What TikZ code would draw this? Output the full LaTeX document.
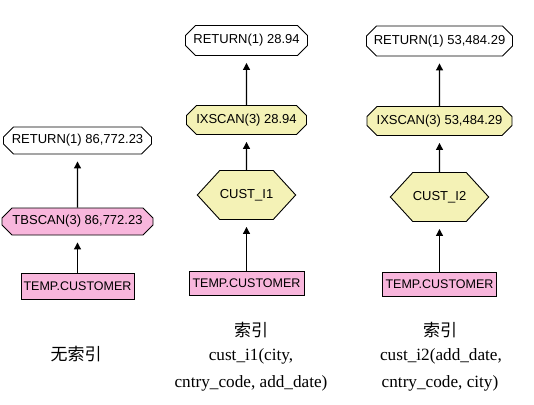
\documentclass[tikz,border=0pt]{standalone}
\usepackage{fontspec}
\setmainfont{Liberation Serif}
\newfontfamily\boxfont{Liberation Sans}
\newfontfamily\cjk{Noto Sans CJK SC}
\usetikzlibrary{shapes.misc,shapes.symbols,arrows.meta}
\definecolor{pinkfill}{RGB}{248,182,220}
\definecolor{yelfill}{RGB}{244,242,182}
\tikzset{
  op/.style={chamfered rectangle, chamfered rectangle xsep=5pt, chamfered rectangle ysep=5pt,
    draw=black, line width=0.9pt, inner sep=0pt, font=\boxfont\fontsize{13}{15}\selectfont},
  retbox/.style={op, fill=white},
  tbbox/.style={op, fill=pinkfill},
  ixbox/.style={op, fill=yelfill},
  tabbox/.style={rectangle, draw=black, line width=0.9pt, fill=pinkfill, inner sep=0pt,
    font=\boxfont\fontsize{12.5}{14}\selectfont},
  hexbox/.style={signal, signal to=east and west, signal pointer angle=95, draw=black,
    line width=0.9pt, fill=yelfill, inner sep=0pt, font=\boxfont\fontsize{13}{15}\selectfont},
  arr/.style={line width=1.1pt, -{Triangle[length=7pt,width=7pt]}, shorten >=7pt},
  captext/.style={font=\fontsize{17.2}{24}\selectfont, inner sep=0pt, anchor=base},
  cjkcap/.style={font=\cjk\fontsize{17}{20}\selectfont, inner sep=0pt},
}
\begin{document}
\begin{tikzpicture}[x=1pt,y=-1pt]
\useasboundingbox (0,0) rectangle (534,404);
% column 1
\node[retbox, minimum width=148pt, minimum height=27pt] (r1) at (77.5,140.5) {RETURN(1) 86,772.23};
\node[tbbox, minimum width=151pt, minimum height=27pt] (s1) at (77.5,221.5) {TBSCAN(3) 86,772.23};
\node[tabbox, minimum width=113pt, minimum height=26pt] (t1) at (77.5,286.5) {TEMP.CUSTOMER};
\draw[arr] (s1) -- (r1);
\draw[arr] (t1) -- (s1);
% column 2
\node[retbox, minimum width=122pt, minimum height=30pt] (r2) at (246.5,40.5) {RETURN(1) 28.94};
\node[ixbox, minimum width=120pt, minimum height=29pt] (s2) at (246.5,120) {IXSCAN(3) 28.94};
\node[hexbox, minimum width=85pt, minimum height=49pt] (h2) at (246.5,195) {CUST\_I1};
\node[tabbox, minimum width=115pt, minimum height=24pt] (t2) at (246.5,283) {TEMP.CUSTOMER};
\draw[arr] (s2) -- (r2);
\draw[arr] (h2) -- (s2);
\draw[arr] (t2) -- (h2);
% column 3
\node[retbox, minimum width=146pt, minimum height=30pt] (r3) at (439.5,41) {RETURN(1) 53,484.29};
\node[ixbox, minimum width=145pt, minimum height=29pt] (s3) at (439.5,121) {IXSCAN(3) 53,484.29};
\node[hexbox, minimum width=85pt, minimum height=49pt] (h3) at (439.5,197) {CUST\_I2};
\node[tabbox, minimum width=114pt, minimum height=24pt] (t3) at (439.5,284) {TEMP.CUSTOMER};
\draw[arr] (s3) -- (r3);
\draw[arr] (h3) -- (s3);
\draw[arr] (t3) -- (h3);
% captions
\node[cjkcap] (c1) at (76,354) {无索引};
\node[cjkcap] (i2) at (251,330) {索引};
\node[captext] (d2a) at (251,360) {cust\_i1(city,};
\node[captext] (d2b) at (251,387) {cntry\_code, add\_date)};
\node[cjkcap] (i3) at (440,330) {索引};
\node[captext] (d3a) at (441,360) {cust\_i2(add\_date,};
\node[captext] (d3b) at (440,387) {cntry\_code, city)};
\end{tikzpicture}
\end{document}
